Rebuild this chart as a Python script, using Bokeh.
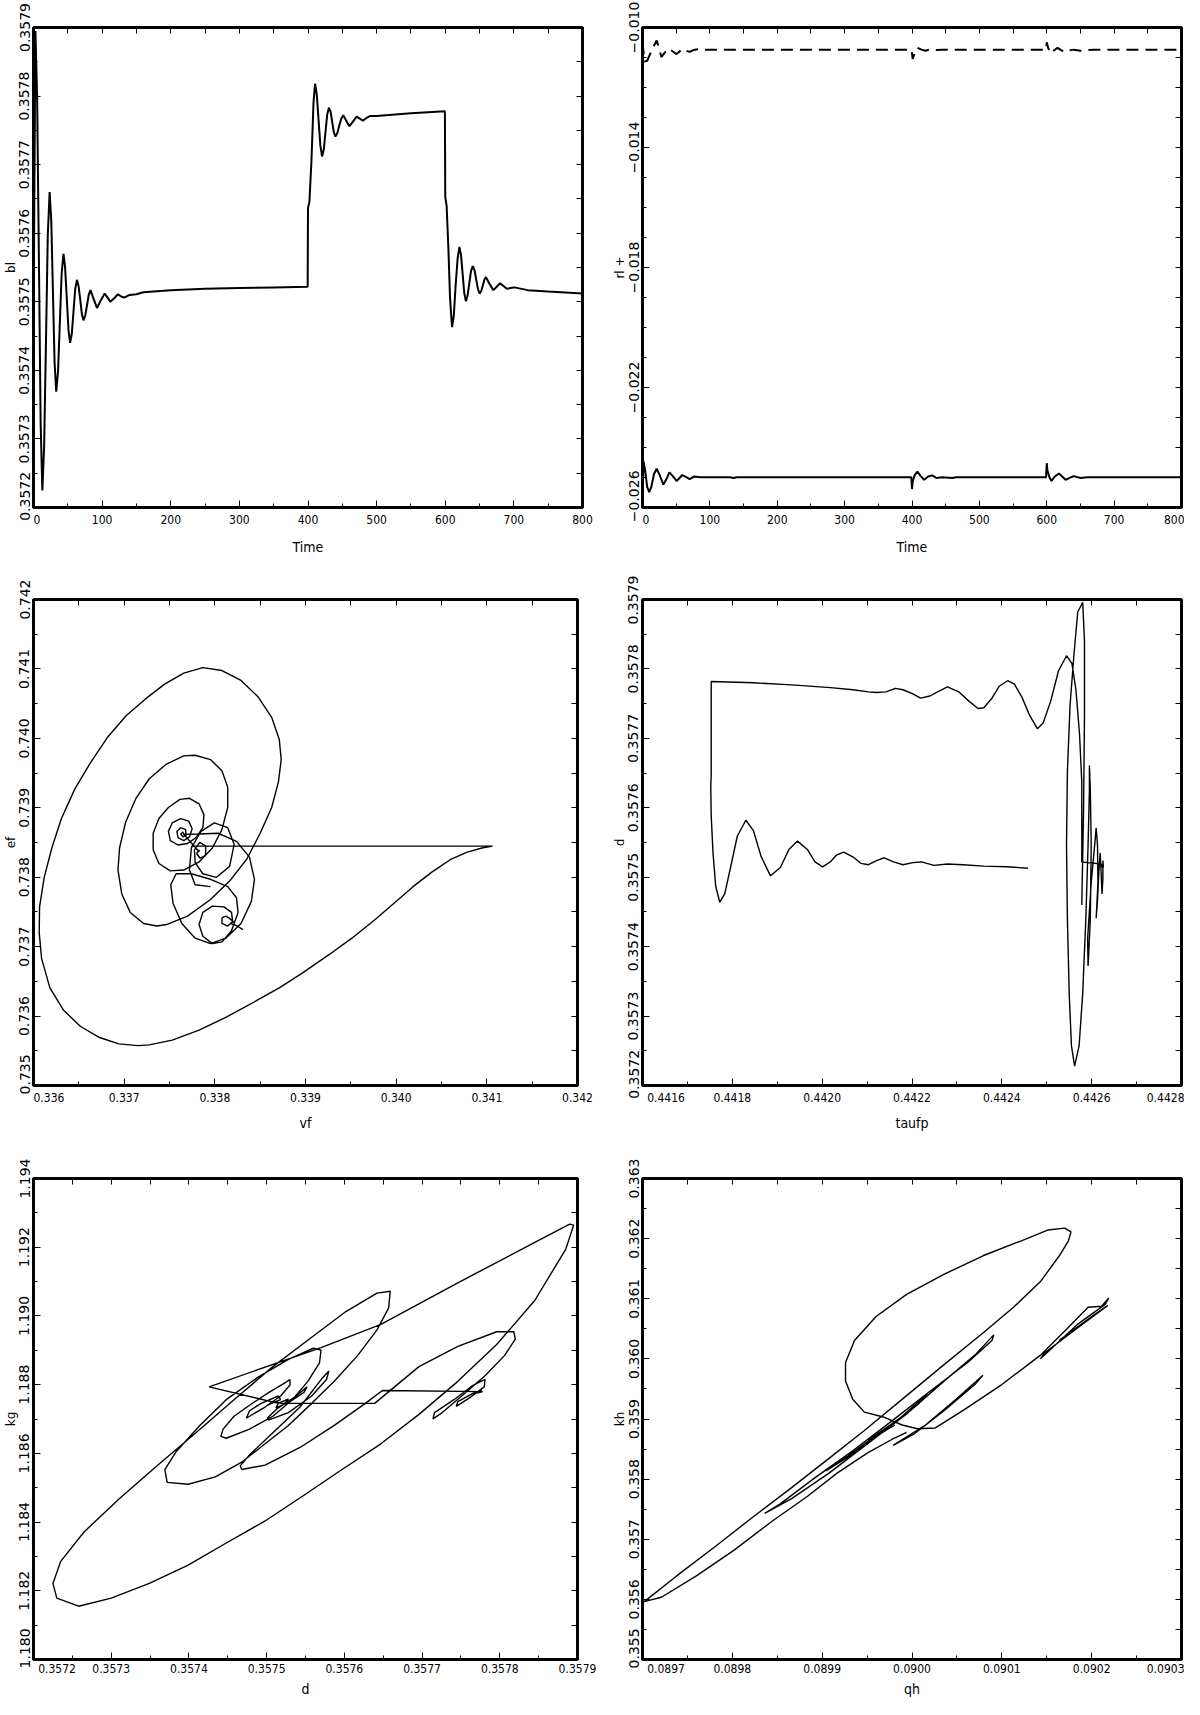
from bokeh.plotting import figure
from bokeh.layouts import column, row
from bokeh.models import LinearAxis, FixedTicker, CustomJSTickFormatter, Range1d
from bokeh.embed import file_html
from bokeh.resources import INLINE

# ---------------- data ----------------
# Panel 1: bl vs Time
p1_time = [0, 1.5, 2.8, 5.3, 7.9, 10.4, 12.9, 15.5, 18.2, 20.8, 23.5, 25.9, 28.3, 30.7, 33.1, 35.8, 38.4, 41, 43.7,
           46, 48.5, 51, 53.3, 55.8, 58.3, 60.8, 63.3, 65.7, 68.1, 70.5, 72.9, 75.4, 78, 80.5, 83, 87.7, 92.5, 98,
           103.7, 108, 112, 117.5, 123, 127.5, 132, 140, 150, 160, 200, 250, 300, 350, 399.5,
           400, 402, 405, 408, 410.3, 412.8, 415.4, 418, 420.5, 423, 425.5, 428, 430.5, 433, 435.3, 437.7, 440,
           442.8, 445.6, 448.5, 451.3, 455.8, 460.3, 465.7, 471, 475.5, 480, 485, 490.5, 500, 550, 599.5,
           600, 602, 604.5, 607, 609.9, 612.5, 615, 618, 620.6, 623, 625.3, 627.7, 630, 632.5, 635, 637.6, 640.2,
           642.7, 645.2, 647.8, 650.3, 652.6, 654.8, 657, 659.3, 664.6, 670, 675, 680, 684.8, 689.6, 695, 700.8,
           720, 750, 800]
p1_bl = [0.35743, 0.3577, 0.357895, 0.357797, 0.35756, 0.357323, 0.357225, 0.357289, 0.357443, 0.357597, 0.35766,
         0.357618, 0.357515, 0.357412, 0.357369, 0.357399, 0.35747, 0.357541, 0.35757,
         0.357551, 0.357505, 0.357459, 0.35744, 0.357453, 0.357486, 0.357519, 0.357532, 0.357523, 0.357503,
         0.357482, 0.357473, 0.35748, 0.357495, 0.35751, 0.357517, 0.357504, 0.357491, 0.357502,
         0.357512, 0.357506, 0.3575, 0.357505, 0.357511, 0.357508, 0.357506, 0.35751, 0.357511, 0.357514,
         0.357517, 0.357519, 0.35752, 0.357521, 0.357522,
         0.357637, 0.357645, 0.357705, 0.35779, 0.357818, 0.357802, 0.357765, 0.357728, 0.357712, 0.357722,
         0.357748, 0.357773, 0.357783, 0.357777, 0.357762, 0.357747, 0.357741,
         0.357746, 0.357757, 0.357767, 0.357772, 0.357764, 0.357756, 0.357763, 0.35777, 0.357767, 0.357764,
         0.357768, 0.357771, 0.357771, 0.357775, 0.357778,
         0.357653, 0.35764, 0.35758, 0.357505, 0.357463, 0.35748, 0.357522, 0.357563, 0.35758, 0.357568,
         0.357541, 0.357513, 0.357501, 0.357509, 0.357527, 0.357545, 0.357552,
         0.357546, 0.357532, 0.357518, 0.357512, 0.357516, 0.357524, 0.357532, 0.357536, 0.357526, 0.357517,
         0.357522, 0.357527, 0.357523, 0.357519, 0.35752, 0.357521,
         0.357517, 0.357515, 0.357512]

# Panel 2: two series vs Time
p2_dash_t = [0, 3, 7, 14, 21, 24.5, 28, 33, 39, 45, 50.5, 55, 59, 65, 70, 76, 82, 90, 100, 399, 400, 401, 404,
             408, 414, 420, 428, 436, 445, 599, 600, 602, 606, 610, 616, 622, 628, 634, 640, 650, 660, 670, 800]
p2_dash_v = [-0.010492, -0.011132, -0.011108, -0.010738, -0.010431, -0.010677, -0.010985, -0.010837, -0.010702,
             -0.0108, -0.010886, -0.0108, -0.010714, -0.010775, -0.010812, -0.010751, -0.010726, -0.010738,
             -0.010738, -0.010738, -0.010862, -0.011046, -0.010862, -0.010677, -0.010738, -0.010775, -0.010726,
             -0.010751, -0.010738, -0.010738, -0.010492, -0.010677, -0.010862, -0.010775, -0.010677, -0.010763,
             -0.010825, -0.010763, -0.010738, -0.010775, -0.010751, -0.010738, -0.010738]
p2_solid_t = [0, 1.5, 4, 7, 10, 13, 17, 21, 25, 31, 35, 40, 45, 50.5, 55, 59, 65, 70, 77, 85, 100, 130, 135, 140,
              399, 400, 401, 404, 408, 413, 418, 424, 430, 436, 445, 460, 465, 599, 600, 601, 604, 607, 612, 618,
              624, 628, 634, 640, 650, 660, 690, 800]
p2_solid_v = [-0.025877, -0.024462, -0.024769, -0.025323, -0.025483, -0.025323, -0.024892, -0.024708, -0.024892,
              -0.025237, -0.025077, -0.024831, -0.024954, -0.025114, -0.025015, -0.024917, -0.024991, -0.025052,
              -0.024966, -0.024991, -0.024991, -0.024991, -0.025015, -0.024991, -0.024991, -0.025385, -0.025138,
              -0.024917, -0.024806, -0.024954, -0.025077, -0.024966, -0.024929, -0.025015, -0.024991, -0.025015,
              -0.024991, -0.024991, -0.024523, -0.024769, -0.024991, -0.025114, -0.024966, -0.024868, -0.024991,
              -0.025077, -0.025015, -0.024954, -0.025015, -0.024991, -0.024991, -0.024991]

# Panel 3: ef vs vf (three pieces of the trajectory)
p3a_vf = [0.33774, 0.341063, 0.340945, 0.340777, 0.340608, 0.340397, 0.340186, 0.339976, 0.339765, 0.339512,
          0.339259, 0.338964, 0.338711, 0.338458, 0.338121, 0.337826, 0.33753, 0.337277, 0.337151, 0.33694,
          0.336729, 0.336519, 0.336329, 0.336181, 0.336089, 0.336063, 0.336067, 0.336118, 0.336202, 0.336308,
          0.336455, 0.336624, 0.336814, 0.337024, 0.337235, 0.337446, 0.337657, 0.337868, 0.338078, 0.338289,
          0.338479, 0.338627, 0.338711, 0.338732, 0.338702, 0.338627, 0.3385, 0.338353, 0.338163, 0.337952,
          0.337699, 0.337467, 0.337362, 0.337214, 0.337067, 0.336974, 0.336932, 0.336949, 0.337016, 0.33713,
          0.337277, 0.337467, 0.337657, 0.337783, 0.337952, 0.338078, 0.338142, 0.338142, 0.338078, 0.337973,
          0.337826, 0.337657, 0.337509, 0.337383, 0.33732, 0.33732, 0.337383, 0.337488, 0.337615, 0.33772,
          0.337826, 0.33788, 0.337868, 0.337792, 0.337699, 0.337594, 0.337509, 0.337488, 0.33753, 0.337623,
          0.337712, 0.33775, 0.33772, 0.337657, 0.337594, 0.337581, 0.337623, 0.337678, 0.337682, 0.337648,
          0.337623, 0.337648, 0.337661]
p3a_ef = [0.738448, 0.738448, 0.738421, 0.738358, 0.738262, 0.738077, 0.737864, 0.737626, 0.737387, 0.737122,
          0.736884, 0.736618, 0.736406, 0.736221, 0.735982, 0.735797, 0.735654, 0.735585, 0.735574, 0.7356,
          0.735691, 0.73585, 0.736088, 0.736406, 0.736831, 0.737202, 0.737573, 0.737997, 0.738421, 0.738845,
          0.739269, 0.739641, 0.740012, 0.74033, 0.740568, 0.740781, 0.74094, 0.741019, 0.740977, 0.740834,
          0.740595, 0.740303, 0.739985, 0.739694, 0.739376, 0.739004, 0.738633, 0.738262, 0.737944, 0.737679,
          0.73744, 0.737318, 0.737297, 0.737334, 0.737493, 0.737758, 0.738103, 0.738421, 0.738792, 0.739137,
          0.739418, 0.73963, 0.739747, 0.739757, 0.739694, 0.739535, 0.739296, 0.739004, 0.738686, 0.738421,
          0.73822, 0.738103, 0.738092, 0.738198, 0.738395, 0.738633, 0.738845, 0.739004, 0.739121, 0.739137,
          0.739057, 0.738898, 0.738713, 0.73857, 0.738485, 0.738464, 0.738527, 0.73866, 0.738782, 0.738845,
          0.738808, 0.738697, 0.73858, 0.738527, 0.73857, 0.73866, 0.738713, 0.738686, 0.738607, 0.73858,
          0.738623, 0.738649, 0.738617]
p3b_vf = [0.337661, 0.337826, 0.338036, 0.338239, 0.338382, 0.338437, 0.338403, 0.338289, 0.338121, 0.337952,
          0.337783, 0.337636, 0.337539, 0.337514, 0.337573, 0.337741, 0.337952, 0.338142, 0.338239, 0.338256,
          0.338184, 0.338079, 0.337973, 0.337868, 0.337826, 0.337868, 0.337973, 0.3381, 0.338184, 0.338197,
          0.338142, 0.338079, 0.338079, 0.338121, 0.338154, 0.338205, 0.338171, 0.338247, 0.33831]
p3b_ef = [0.738617, 0.738623, 0.738633, 0.738517, 0.738289, 0.73797, 0.737652, 0.737334, 0.737122, 0.737043,
          0.737122, 0.737334, 0.737626, 0.737891, 0.73805, 0.73805, 0.73797, 0.737864, 0.737705, 0.737493,
          0.737228, 0.737069, 0.737043, 0.737149, 0.737318, 0.737493, 0.737583, 0.737573, 0.737493, 0.737361,
          0.737297, 0.737334, 0.737414, 0.73744, 0.737414, 0.737361, 0.737334, 0.737297, 0.737244]
p3c_vf = [0.337648, 0.337826, 0.337826, 0.3378, 0.337838, 0.337897, 0.337901, 0.337834, 0.337775, 0.337783,
          0.337868, 0.338015, 0.338163, 0.338213, 0.338142, 0.337994, 0.337847, 0.337741, 0.33772, 0.337783,
          0.337952]
p3c_ef = [0.738633, 0.738368, 0.738395, 0.738342, 0.738273, 0.738315, 0.738448, 0.738501, 0.738395, 0.738209,
          0.73805, 0.737997, 0.738156, 0.738474, 0.738713, 0.738782, 0.73866, 0.738421, 0.738103, 0.737891,
          0.737864]

# Panel 4: d vs taufp
p4_taufp = [0.442578, 0.442582, 0.442584, 0.442584, 0.44258, 0.442569, 0.442561, 0.442552, 0.442546, 0.442544,
            0.442546, 0.44255, 0.442555, 0.442562, 0.442572, 0.44258, 0.442587, 0.442592, 0.442595, 0.442595,
            0.442597, 0.442599, 0.442597, 0.442592, 0.442591, 0.442599, 0.442608, 0.44261, 0.442613, 0.442614,
            0.44261, 0.442613, 0.442616, 0.442619, 0.442621, 0.442623, 0.442625, 0.442625, 0.442626, 0.442625,
            0.442621, 0.442608, 0.442591, 0.442578, 0.442578, 0.442573, 0.442565, 0.442556, 0.442544, 0.442526,
            0.442509, 0.442492, 0.442479, 0.442462, 0.442445, 0.442428, 0.442413, 0.442394, 0.442377, 0.44236,
            0.442347, 0.442326, 0.442304, 0.442279, 0.442257, 0.44224, 0.442219, 0.442202, 0.44218, 0.442163,
            0.442142, 0.442121, 0.442103, 0.442069, 0.442018, 0.441932, 0.441847, 0.441753, 0.441753, 0.441752,
            0.441753, 0.441757, 0.441763, 0.441772, 0.441783, 0.441796, 0.441811, 0.44183, 0.441847, 0.441864,
            0.441885, 0.441907, 0.441926, 0.441945, 0.441967, 0.441984, 0.442001, 0.442018, 0.442032, 0.442048,
            0.442069, 0.442086, 0.442103, 0.442121, 0.442138, 0.442159, 0.44218, 0.442202, 0.442221, 0.442249,
            0.442279, 0.442313, 0.44236, 0.442411, 0.442458]
p4_d = [0.35746, 0.357599, 0.357733, 0.35784, 0.357896, 0.357882, 0.357824, 0.357749, 0.357653, 0.357546,
        0.357439, 0.357332, 0.357257, 0.357228, 0.357257, 0.357332, 0.357439, 0.357546, 0.357626, 0.357661,
        0.357626, 0.357546, 0.357439, 0.357372, 0.357412, 0.357492, 0.357556, 0.357571, 0.357546, 0.357492,
        0.357441, 0.357466, 0.357508, 0.357535, 0.357508, 0.357476, 0.357498, 0.357524, 0.357516, 0.357513,
        0.357519, 0.35752, 0.357521, 0.357522, 0.357637, 0.357706, 0.35777, 0.357808, 0.357819, 0.357797,
        0.357754, 0.357722, 0.357714, 0.357733, 0.357759, 0.357778, 0.357783, 0.357775, 0.357757, 0.357744,
        0.357743, 0.357754, 0.357767, 0.357774, 0.357767, 0.357761, 0.357758, 0.357764, 0.35777, 0.357772,
        0.357767, 0.357766, 0.357767, 0.35777, 0.357773, 0.357777, 0.35778, 0.357782, 0.35765, 0.357631,
        0.357588, 0.357535, 0.357487, 0.357464, 0.357476, 0.357514, 0.357559, 0.357582, 0.357567, 0.35753,
        0.357502, 0.357514, 0.35754, 0.357552, 0.35754, 0.357522, 0.357515, 0.357522, 0.357532, 0.357536,
        0.357529, 0.35752, 0.357518, 0.357524, 0.357528, 0.357522, 0.357518, 0.357521, 0.357522, 0.357517,
        0.357519, 0.357518, 0.357516, 0.357515, 0.357513]

# Panel 5: kg vs d
p5_d = [0.357515, 0.357426, 0.35757, 0.357647, 0.357746, 0.357845, 0.35789, 0.357895, 0.357885, 0.357845,
        0.357796, 0.357746, 0.357696, 0.357647, 0.357597, 0.357548, 0.357498, 0.357448, 0.357399, 0.357349,
        0.3573, 0.357258, 0.35723, 0.357225, 0.357235, 0.357265, 0.35731, 0.357359, 0.357409, 0.357458,
        0.357508, 0.357558, 0.357602, 0.357642, 0.357659, 0.357657, 0.357642, 0.357617, 0.357587, 0.357558,
        0.357528, 0.357498, 0.357468, 0.357434, 0.357399, 0.357372, 0.357369, 0.357384, 0.357414, 0.357448,
        0.357488, 0.357528, 0.35756, 0.35757, 0.357568, 0.357553, 0.357533, 0.357508, 0.357478, 0.357448,
        0.357441, 0.357444, 0.357458, 0.357478, 0.357503, 0.357523, 0.35753, 0.35753, 0.357518, 0.357498,
        0.357478, 0.357474, 0.357478, 0.357493, 0.357515, 0.357518, 0.357501, 0.35751, 0.35752,
        0.357639, 0.357696, 0.357746, 0.357796, 0.357818, 0.35782, 0.357806, 0.357781, 0.357751, 0.357726,
        0.357714, 0.357716, 0.357741, 0.357766, 0.357781, 0.35778, 0.357761, 0.357744, 0.357746, 0.357766,
        0.357777, 0.357771, 0.357778,
        0.357649, 0.357627, 0.357587, 0.357543, 0.357498, 0.357468, 0.357466, 0.357478, 0.357508, 0.357543,
        0.357572, 0.35758, 0.357577, 0.357558, 0.357528, 0.357503, 0.357501, 0.357513, 0.357538, 0.357552,
        0.357548, 0.35753, 0.357512, 0.357515, 0.357528, 0.357523, 0.357517]
p5_kg = [1.187455, 1.187936, 1.18908, 1.189754, 1.190963, 1.192139, 1.192674, 1.192642, 1.191947, 1.190449,
         1.189166, 1.188096, 1.187134, 1.186278, 1.18553, 1.184781, 1.184032, 1.183391, 1.182749, 1.182214,
         1.181786, 1.181551, 1.181786, 1.182214, 1.182856, 1.183712, 1.184674, 1.185637, 1.186599, 1.187562,
         1.188524, 1.18938, 1.190128, 1.190663, 1.190717, 1.190235, 1.189594, 1.188845, 1.188096, 1.187455,
         1.186813, 1.186278, 1.185743, 1.185316, 1.185102, 1.185155, 1.18553, 1.186064, 1.186813, 1.187562,
         1.188203, 1.188738, 1.189059, 1.189005, 1.188631, 1.188096, 1.187562, 1.18708, 1.186706, 1.186439,
         1.186492, 1.186706, 1.18708, 1.187401, 1.187776, 1.188043, 1.18815, 1.187989, 1.187669, 1.187348,
         1.18708, 1.187027, 1.187241, 1.187455, 1.187669, 1.187562, 1.187401, 1.187508, 1.187455,
         1.187455, 1.188524, 1.189112, 1.18954, 1.18954, 1.189326, 1.188845, 1.188257, 1.187669, 1.187187,
         1.187005, 1.187187, 1.187562, 1.187989, 1.18815, 1.187936, 1.187615, 1.187369, 1.187508, 1.187755,
         1.187829, 1.187755, 1.187797,
         1.187829, 1.187455, 1.186813, 1.186171, 1.185658, 1.18553, 1.185637, 1.185957, 1.186599, 1.187348,
         1.188203, 1.188396, 1.18815, 1.187669, 1.187187, 1.186973, 1.187027, 1.187294, 1.187669, 1.187936,
         1.187776, 1.187508, 1.187326, 1.187455, 1.187583, 1.187455, 1.187455]

# Panel 6: kh vs qh (several pieces)
p6a_qh = [0.089702, 0.089738, 0.089781, 0.089823, 0.089866, 0.089908, 0.089947, 0.089994, 0.090036, 0.090079,
          0.090113, 0.090143, 0.090164, 0.090174, 0.090177, 0.09017, 0.090151, 0.090121, 0.090079, 0.090036,
          0.089994, 0.08996, 0.089936, 0.089926, 0.089926, 0.089934, 0.089947, 0.089968, 0.089989, 0.090006,
          0.090026, 0.090057, 0.0901, 0.090143, 0.090172, 0.090196, 0.090211, 0.090219, 0.090215, 0.090185,
          0.090143, 0.090147, 0.090185, 0.090218, 0.090202, 0.090164, 0.090181, 0.090206]
p6a_kh = [0.355962, 0.35639, 0.35688, 0.35737, 0.357859, 0.358349, 0.358808, 0.359389, 0.359909, 0.36043,
          0.360858, 0.361286, 0.361715, 0.36196, 0.362113, 0.362174, 0.362143, 0.36196, 0.361715, 0.361409,
          0.361072, 0.360705, 0.360307, 0.35994, 0.359634, 0.359328, 0.359114, 0.359034, 0.3589, 0.358838,
          0.358851, 0.359144, 0.359573, 0.360062, 0.360491, 0.360858, 0.360876, 0.361011, 0.360907, 0.360583,
          0.360001, 0.360093, 0.360521, 0.360889, 0.360723, 0.360307, 0.360491, 0.360766]
p6b_qh = [0.089702, 0.089721, 0.08976, 0.089802, 0.089845, 0.089883, 0.089917, 0.089951, 0.089977, 0.089994,
          0.089985]
p6b_kh = [0.355962, 0.356035, 0.35639, 0.356819, 0.357308, 0.357706, 0.358104, 0.358441, 0.358655, 0.358777,
          0.358716]
p6c_qh = [0.089836, 0.089866, 0.089908, 0.089951, 0.089994, 0.090036, 0.09007, 0.090091, 0.090089, 0.090062,
          0.090019, 0.089977, 0.089934, 0.089891, 0.089853, 0.089836]
p6c_kh = [0.357431, 0.357676, 0.358104, 0.358594, 0.359083, 0.359634, 0.360062, 0.360399, 0.360307, 0.35994,
          0.35945, 0.358961, 0.358471, 0.358012, 0.357584, 0.357431]
p6d_qh = [0.089979, 0.090015, 0.090049, 0.090079, 0.09007, 0.090036, 0.090002, 0.089979]
p6d_kh = [0.358563, 0.3589, 0.359328, 0.359726, 0.359573, 0.359144, 0.358747, 0.358563]
p6e_qh = [0.089904, 0.089943, 0.089985, 0.090017, 0.090006, 0.089968, 0.08993, 0.089904]
p6e_kh = [0.358135, 0.358532, 0.358991, 0.35942, 0.359236, 0.358808, 0.358379, 0.358135]
p6f_qh = [0.08993, 0.089977, 0.089951, 0.089985, 0.08996, 0.089981]
p6f_kh = [0.35841, 0.3589, 0.358655, 0.358991, 0.358716, 0.3589]

# ticks
t_time = [0, 100, 200, 300, 400, 500, 600, 700, 800]
t_time_minor = [50, 150, 250, 350, 450, 550, 650, 750]
t_d = [0.3572, 0.3573, 0.3574, 0.3575, 0.3576, 0.3577, 0.3578, 0.3579]
t_d_minor = [0.35725, 0.35735, 0.35745, 0.35755, 0.35765, 0.35775, 0.35785]
t_rl = [-0.026, -0.022, -0.018, -0.014, -0.010]
t_rl_minor = [-0.025, -0.024, -0.023, -0.021, -0.020, -0.019, -0.017, -0.016, -0.015, -0.013, -0.012, -0.011]
t_vf = [0.336, 0.337, 0.338, 0.339, 0.340, 0.341, 0.342]
t_vf_minor = [0.3365, 0.3375, 0.3385, 0.3395, 0.3405, 0.3415]
t_ef = [0.735, 0.736, 0.737, 0.738, 0.739, 0.740, 0.741, 0.742]
t_ef_minor = [0.7355, 0.7365, 0.7375, 0.7385, 0.7395, 0.7405, 0.7415]
t_taufp = [0.4416, 0.4418, 0.4420, 0.4422, 0.4424, 0.4426, 0.4428]
t_taufp_minor = [0.4417, 0.4419, 0.4421, 0.4423, 0.4425, 0.4427]
t_kg = [1.180, 1.182, 1.184, 1.186, 1.188, 1.190, 1.192, 1.194]
t_kg_minor = [1.181, 1.183, 1.185, 1.187, 1.189, 1.191, 1.193]
t_qh = [0.0897, 0.0898, 0.0899, 0.0900, 0.0901, 0.0902, 0.0903]
t_qh_minor = [0.08975, 0.08985, 0.08995, 0.09005, 0.09015, 0.09025]
t_kh = [0.355, 0.356, 0.357, 0.358, 0.359, 0.360, 0.361, 0.362, 0.363]
t_kh_minor = [0.3555, 0.3565, 0.3575, 0.3585, 0.3595, 0.3605, 0.3615, 0.3625]

XFONT = "'DejaVu Sans Condensed', 'Liberation Sans Narrow', 'Roboto Condensed', Roboto, sans-serif"
YFONT = "DejaVu Sans"


def fmt(dec, padfactor):
    # the first label is pushed off its tick (as in the reference) with no-break spaces
    return CustomJSTickFormatter(code=(
        "const s = (tick < 0 ? '\\u2212' : '') + Math.abs(tick).toFixed(%d);"
        "return index == 0 ? '\\u00a0'.repeat(Math.round(s.length * %s)) + s : s;" % (dec, padfactor)))


def tick_only_axis(positions):
    ax = LinearAxis(ticker=FixedTicker(ticks=[], minor_ticks=positions))
    ax.axis_line_color = None
    ax.major_tick_in = 0
    ax.major_tick_out = 0
    ax.minor_tick_in = 6
    ax.minor_tick_out = 0
    ax.minor_tick_line_color = "black"
    ax.major_label_standoff = 0
    return ax


def make_fig(width, height, xr, yr, xt, xm, yt, ym, xdec, ydec, xlabel, ylabel, mb_top, mb_right, mb_bottom,
             x_std=5, xl_std=9):
    p = figure(width=width, height=height, x_range=Range1d(*xr), y_range=Range1d(*yr),
               output_backend="svg", toolbar_location=None, tools="",
               min_border_left=26, min_border_right=mb_right, min_border_top=mb_top, min_border_bottom=mb_bottom)
    p.grid.visible = False
    p.outline_line_color = "black"
    p.outline_line_width = 3
    p.outline_line_alpha = 1.0
    xa = p.xaxis[0]
    ya = p.yaxis[0]
    xa.ticker = FixedTicker(ticks=xt, minor_ticks=xm)
    ya.ticker = FixedTicker(ticks=yt, minor_ticks=ym)
    xa.formatter = fmt(xdec, 1.8)
    ya.formatter = fmt(ydec, 0.9)
    for ax in (xa, ya):
        ax.axis_line_color = None
        ax.major_tick_in = 7
        ax.major_tick_out = 0
        ax.minor_tick_in = 4
        ax.minor_tick_out = 0
        ax.major_tick_line_color = "black"
        ax.minor_tick_line_color = "black"
        ax.major_label_text_color = "black"
        ax.axis_label_text_color = "black"
        ax.axis_label_text_font_style = "normal"
    xa.axis_label = xlabel
    xa.major_label_text_font = XFONT
    xa.major_label_text_font_size = "12px"
    xa.major_label_standoff = x_std
    xa.axis_label_text_font = XFONT
    xa.axis_label_text_font_size = "14px"
    xa.axis_label_standoff = xl_std
    ya.axis_label = ylabel
    ya.major_label_orientation = "vertical"
    ya.major_label_text_font = YFONT
    ya.major_label_text_font_size = "14px"
    ya.major_label_standoff = 1
    ya.axis_label_text_font = YFONT
    ya.axis_label_text_font_size = "12px"
    ya.axis_label_standoff = -4
    p.add_layout(tick_only_axis(sorted(xt + xm)), "above")
    p.add_layout(tick_only_axis(sorted(yt + ym)), "right")
    return p


LW = 1.4
WL, WR = 609, 575

p1 = make_fig(WL, 575, (0, 800), (0.3572, 0.3579), t_time, t_time_minor, t_d, t_d_minor,
              0, 4, "Time", "bl", 27, 27, 68)
p1.line(p1_time, p1_bl, line_color="black", line_width=2)

p2 = make_fig(WR, 575, (0, 800), (-0.026, -0.010), t_time, t_time_minor, t_rl, t_rl_minor,
              0, 3, "Time", "rl +", 27, 3, 68)
p2.line(p2_dash_t, p2_dash_v, line_color="black", line_width=2, line_dash="12 7")
p2.line(p2_solid_t, p2_solid_v, line_color="black", line_width=2)

p3 = make_fig(WL, 579, (0.336, 0.342), (0.735, 0.742), t_vf, t_vf_minor, t_ef, t_ef_minor,
              3, 3, "vf", "ef", 24, 32, 69, xl_std=7)
p3.line(p3a_vf, p3a_ef, line_color="black", line_width=LW)
p3.line(p3b_vf, p3b_ef, line_color="black", line_width=LW)
p3.line(p3c_vf, p3c_ef, line_color="black", line_width=LW)

p4 = make_fig(WR, 579, (0.4416, 0.4428), (0.3572, 0.3579), t_taufp, t_taufp_minor, t_d, t_d_minor,
              4, 4, "taufp", "d", 24, 3, 69, xl_std=7)
p4.line(p4_taufp, p4_d, line_color="black", line_width=LW)

p5 = make_fig(WL, 545, (0.3572, 0.3579), (1.180, 1.194), t_d, t_d_minor, t_kg, t_kg_minor,
              4, 3, "d", "kg", 24, 32, 34, x_std=2, xl_std=2)
p5.line(p5_d, p5_kg, line_color="black", line_width=LW)

p6 = make_fig(WR, 545, (0.0897, 0.0903), (0.355, 0.363), t_qh, t_qh_minor, t_kh, t_kh_minor,
              4, 3, "qh", "kh", 24, 3, 34, x_std=2, xl_std=2)
for xs, ys in ((p6a_qh, p6a_kh), (p6b_qh, p6b_kh), (p6c_qh, p6c_kh), (p6d_qh, p6d_kh),
               (p6e_qh, p6e_kh), (p6f_qh, p6f_kh)):
    p6.line(xs, ys, line_color="black", line_width=LW)

layout = column(row(p1, p2), row(p3, p4), row(p5, p6))
open("out.html", "w", encoding="utf-8").write(file_html(layout, INLINE))
